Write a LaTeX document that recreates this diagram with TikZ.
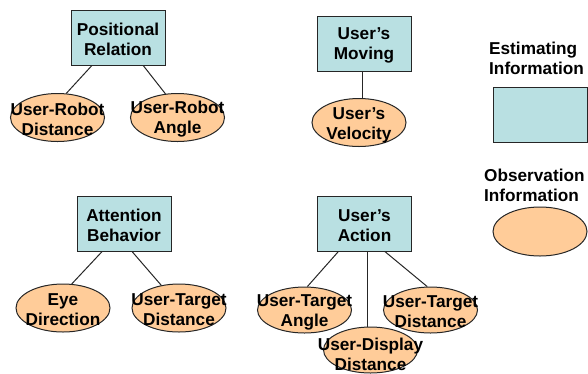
\documentclass[tikz,border=0pt]{standalone}
\usepackage{fontspec}
\setmainfont{Liberation Sans}
\usetikzlibrary{shapes.geometric}
\definecolor{estfill}{RGB}{185,224,226}
\definecolor{obsfill}{RGB}{255,204,153}
\begin{document}
\begin{tikzpicture}[x=1pt,y=-1pt,
  every node/.style={font=\bfseries\fontsize{17.2}{20}\selectfont},
  est/.style={draw=black!85, line width=1pt, fill=estfill, rectangle, minimum width=94pt, minimum height=55pt, inner sep=0pt},
  obs/.style={draw=black!85, line width=1pt, fill=obsfill, ellipse, minimum width=94pt, minimum height=48pt, inner sep=0pt},
  txt/.style={align=center, inner sep=0pt, yshift=-2pt},
  conn/.style={draw=black!85, line width=1pt}]
\useasboundingbox (0,0) rectangle (588,373);
% Positional Relation
\node[est] (pr) at (118,37.5) {};
\node[txt] (prt) at (pr.center) {Positional\\Relation};
\node[obs] (urd) at (57.5,117.5) {};
\node[txt] (urdt) at (urd.center) {User-Robot\\Distance};
\node[obs] (ura) at (177.5,117.5) {};
\node[txt] (urat) at (ura.center) {User-Robot\\Angle};
\draw[conn] (pr.227.7) -- (urd.70.5);
\draw[conn] (pr.312.3) -- (ura.117.5);
% User's Moving
\node[est] (um) at (364,43.5) {};
\node[txt] (umt) at (um.center) {User’s\\Moving};
\node[obs] (uv) at (359,122.5) {};
\node[txt] (uvt) at (359,123.5) {User’s\\Velocity};
\draw[conn] ([xshift=-2pt]um.south) -- ([xshift=-2pt]um.south |- uv.north);
% Attention Behavior
\node[est] (ab) at (124,223.5) {};
\node[txt] (abt) at (ab.center) {Attention\\Behavior};
\node[obs] (ed) at (63,308) {};
\node[txt] (edt) at (ed.center) {Eye\\Direction};
\node[obs] (utd1) at (179,308) {};
\node[txt] (utd1t) at (utd1.center) {User-Target\\Distance};
\draw[conn] (ab.232.6) -- (ed.70.2);
\draw[conn] (ab.286.2) -- (utd1.128.7);
% User's Action
\node[est] (ua) at (364.5,223.5) {};
\node[txt] (uat) at (ua.center) {User’s\\Action};
\node[obs, minimum height=46pt] (uta) at (304.5,310) {};
\node[txt] (utat) at (uta.center) {User-Target\\Angle};
\node[obs, minimum height=46pt] (utd2) at (430.5,310) {};
\node[txt] (utd2t) at (utd2.center) {User-Target\\Distance};
\draw[conn] (ua.227.2) -- (uta.83.8);
\draw[conn] (ua.306.7) -- (utd2.98.7);
\draw[conn] ([xshift=2.5pt]ua.south) -- ([xshift=2.5pt]ua.south |- 0,327);
\node[obs, minimum height=46pt] (ud) at (370.5,350) {};
\node[txt] (udt) at (370.5,352) {User-Display\\Distance};
% Legend
\node[align=left, inner sep=0pt, anchor=west] (lest) at (489,58) {Estimating\\Information};
\node[est] (lrect) at (540,114.5) {};
\node[align=left, inner sep=0pt, anchor=west] (lobs) at (484,185.5) {Observation\\Information};
\node[obs, minimum height=49pt] (lell) at (540,231.5) {};
\end{tikzpicture}
\end{document}
